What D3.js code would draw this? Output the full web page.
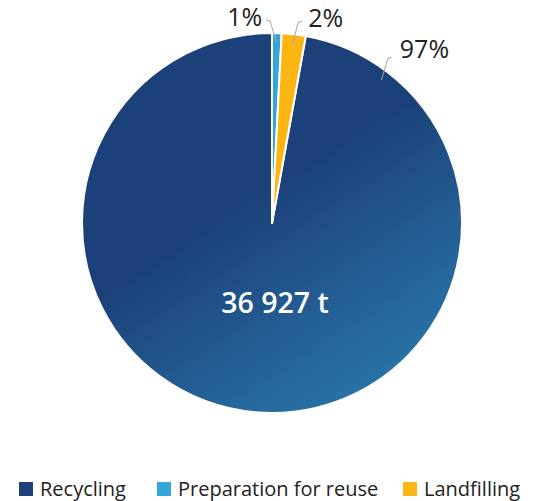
<!DOCTYPE html>
<html>
<head>
<meta charset="utf-8">
<script src="https://cdn.jsdelivr.net/npm/d3@7"></script>
<style>
  html, body { margin: 0; padding: 0; background: #fff; }
  svg { display: block; font-family: "Open Sans", "DejaVu Sans", sans-serif; }
</style>
</head>
<body>
<svg id="chart" width="548" height="501"></svg>
<script>
// Waste treatment breakdown (tonnes)
const categories = ["Recycling", "Preparation for reuse", "Landfilling"];
const tonnes = [35877, 300, 750];
const percentLabels = ["97%", "1%", "2%"];
const totalLabel = "36 927 t";
const colors = ["#1c4079", "#32a6da", "#fbb614"];

const W = 548, H = 501;
const cx = 272, cy = 223, R = 190;

const svg = d3.select("#chart");
const defs = svg.append("defs");

// Recycling slice shading: deep navy fading to a lighter blue toward lower right
// (coordinates are relative to the pie centre)
const grad = defs.append("linearGradient")
  .attr("id", "recyclingGrad")
  .attr("gradientUnits", "userSpaceOnUse")
  .attr("x1", -20).attr("y1", -30)
  .attr("x2", 120).attr("y2", 190);
grad.append("stop").attr("offset", "0%").attr("stop-color", "#1c4079");
grad.append("stop").attr("offset", "100%").attr("stop-color", "#2a7aad");

const data = categories.map((c, i) => ({ name: c, value: tonnes[i], label: percentLabels[i], color: colors[i] }));
const total = d3.sum(tonnes);

// Recycling ends exactly at 12 o'clock so the small slices follow it clockwise
const start = 2 * Math.PI * (1 - tonnes[0] / total);
const pie = d3.pie().sort(null).value(d => d.value)
  .startAngle(start).endAngle(start + 2 * Math.PI);
const arcs = pie(data);

const arc = d3.arc().innerRadius(0).outerRadius(R);

const g = svg.append("g").attr("transform", `translate(${cx},${cy})`);

g.selectAll("path.slice")
  .data(arcs)
  .join("path")
  .attr("class", "slice")
  .attr("d", arc)
  .attr("fill", (d, i) => i === 0 ? "url(#recyclingGrad)" : d.data.color)
  .attr("stroke", "#fff")
  .attr("stroke-width", 2)
  .attr("stroke-linejoin", "round");

// Percentage callouts with elbow connectors
// turn: where the connector touches the big slice (fraction of a turn)
// rOut: radius of the elbow, shift: sideways nudge of the elbow,
// gap: space between elbow and text, textDy: baseline offset from the elbow
const labelSpec = [
  { turn: 0.104, side: 1, rOut: 207, shift: -10, gap: 8, textDy: 0 },   // Recycling
  { turn: null, side: -1, rOut: 202, shift: -7, gap: 4, textDy: 6 },    // Preparation for reuse
  { turn: null, side: 1, rOut: 202, shift: 3, gap: 6, textDy: 6 }       // Landfilling
];

const TAU = 2 * Math.PI;
arcs.forEach((d, i) => {
  const spec = labelSpec[i];
  let a = spec.turn !== null ? spec.turn * TAU : (d.startAngle + d.endAngle) / 2;
  a = a % TAU;
  const p0 = [Math.sin(a) * (R - 10), -Math.cos(a) * (R - 10)];
  const p1 = [Math.sin(a) * spec.rOut + spec.shift, -Math.cos(a) * spec.rOut];
  const p2 = [p1[0] + spec.side * 4, p1[1] - 1];
  g.append("path")
    .attr("d", d3.line()([p0, p1, p2]))
    .attr("fill", "none")
    .attr("stroke", "#a6a6a6")
    .attr("stroke-width", 1);
  g.append("text")
    .attr("x", p2[0] + spec.side * spec.gap)
    .attr("y", p2[1] + spec.textDy)
    .attr("text-anchor", spec.side > 0 ? "start" : "end")
    .attr("font-size", 25)
    .attr("fill", "#222")
    .text(d.data.label);
});

// Total in the middle of the pie
svg.append("text")
  .attr("x", cx + 3)
  .attr("y", 313)
  .attr("text-anchor", "middle")
  .attr("font-size", 28.5)
  .attr("font-weight", 600)
  .attr("fill", "#fff")
  .text(totalLabel);

// Legend
const legend = svg.append("g").attr("transform", "translate(0,496)");
const legendX = [19, 157, 403];
data.forEach((d, i) => {
  const item = legend.append("g").attr("transform", `translate(${legendX[i]},0)`);
  item.append("rect").attr("x", 0).attr("y", -14).attr("width", 14).attr("height", 14).attr("fill", d.color);
  item.append("text").attr("x", 21).attr("y", 0).attr("font-size", 20).attr("fill", "#222").text(d.name);
});
</script>
</body>
</html>
